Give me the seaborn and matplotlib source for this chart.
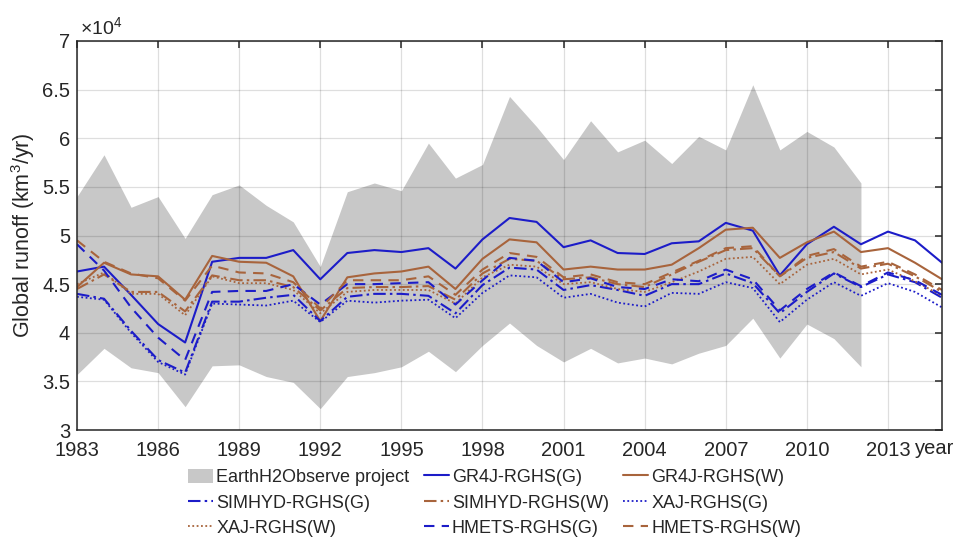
import numpy as np
import pandas as pd
import matplotlib
matplotlib.use("Agg")
import matplotlib.pyplot as plt
from matplotlib.patches import Patch
from matplotlib.lines import Line2D
import seaborn as sns

# Annual global runoff, in units of 10^4 km^3/yr
years = list(range(1983, 2016))

# EarthH2Observe ensemble envelope (1983-2012)
e2o_years = list(range(1983, 2013))
e2o_upper = [5.40, 5.83, 5.29, 5.40, 4.97, 5.42, 5.52, 5.31, 5.14, 4.68,
             5.45, 5.54, 5.46, 5.95, 5.59, 5.73, 6.43, 6.12, 5.78, 6.18,
             5.86, 5.98, 5.74, 6.02, 5.88, 6.55, 5.88, 6.07, 5.91, 5.54]
e2o_lower = [3.57, 3.84, 3.64, 3.59, 3.24, 3.66, 3.67, 3.55, 3.49, 3.22,
             3.55, 3.59, 3.65, 3.81, 3.60, 3.87, 4.10, 3.87, 3.70, 3.84,
             3.69, 3.74, 3.68, 3.79, 3.87, 4.15, 3.74, 4.09, 3.94, 3.65]

gr4j_g = [4.63, 4.68, 4.39, 4.09, 3.90, 4.73, 4.77, 4.77, 4.85, 4.55,
          4.82, 4.85, 4.83, 4.87, 4.66, 4.96, 5.18, 5.14, 4.88, 4.95,
          4.82, 4.81, 4.92, 4.94, 5.13, 5.05, 4.59, 4.91, 5.09, 4.91,
          5.04, 4.95, 4.72]
gr4j_w = [4.47, 4.72, 4.60, 4.58, 4.34, 4.79, 4.73, 4.72, 4.58, 4.12,
          4.57, 4.61, 4.63, 4.68, 4.45, 4.76, 4.96, 4.93, 4.65, 4.68,
          4.65, 4.65, 4.70, 4.87, 5.06, 5.08, 4.77, 4.93, 5.04, 4.83,
          4.87, 4.72, 4.55]
simhyd_g = [4.40, 4.35, 4.02, 3.72, 3.59, 4.32, 4.32, 4.36, 4.39, 4.12,
            4.37, 4.40, 4.40, 4.38, 4.20, 4.49, 4.67, 4.65, 4.44, 4.49,
            4.44, 4.38, 4.50, 4.50, 4.61, 4.51, 4.20, 4.42, 4.61, 4.47,
            4.60, 4.52, 4.36]
simhyd_w = [4.45, 4.60, 4.42, 4.42, 4.22, 4.59, 4.54, 4.54, 4.47, 4.23,
            4.46, 4.47, 4.47, 4.48, 4.34, 4.61, 4.76, 4.74, 4.55, 4.57,
            4.50, 4.47, 4.60, 4.73, 4.85, 4.87, 4.58, 4.77, 4.83, 4.66,
            4.71, 4.58, 4.42]
xaj_g = [4.37, 4.34, 4.00, 3.70, 3.57, 4.30, 4.29, 4.28, 4.33, 4.11,
         4.33, 4.31, 4.33, 4.34, 4.15, 4.41, 4.59, 4.57, 4.36, 4.40,
         4.31, 4.27, 4.41, 4.40, 4.52, 4.46, 4.11, 4.34, 4.52, 4.38,
         4.51, 4.42, 4.26]
xaj_w = [4.50, 4.62, 4.40, 4.40, 4.18, 4.58, 4.51, 4.51, 4.44, 4.20,
         4.42, 4.44, 4.44, 4.44, 4.30, 4.57, 4.70, 4.68, 4.50, 4.52,
         4.45, 4.42, 4.52, 4.63, 4.76, 4.78, 4.50, 4.70, 4.76, 4.60,
         4.65, 4.53, 4.38]
hmets_g = [4.91, 4.64, 4.26, 3.95, 3.72, 4.42, 4.43, 4.43, 4.50, 4.29,
           4.50, 4.50, 4.51, 4.52, 4.29, 4.54, 4.77, 4.74, 4.52, 4.56,
           4.47, 4.45, 4.55, 4.53, 4.65, 4.55, 4.23, 4.45, 4.62, 4.48,
           4.62, 4.54, 4.39]
hmets_w = [4.95, 4.73, 4.61, 4.56, 4.33, 4.69, 4.62, 4.61, 4.52, 4.25,
           4.54, 4.54, 4.54, 4.58, 4.39, 4.65, 4.82, 4.78, 4.57, 4.60,
           4.52, 4.50, 4.62, 4.74, 4.87, 4.89, 4.58, 4.79, 4.86, 4.68,
           4.73, 4.60, 4.44]

x_ticks = list(range(1983, 2014, 3))
y_ticks = [3, 3.5, 4, 4.5, 5, 5.5, 6, 6.5, 7]
y_tick_labels = ["3", "3.5", "4", "4.5", "5", "5.5", "6", "6.5", "7"]

BLUE = "#1c1cc8"
BROWN = "#a8643c"
BAND = "#c8c8c8"
INK = "#262626"

series = [
    ("GR4J-RGHS(G)", gr4j_g, BLUE, "-", 1.5),
    ("GR4J-RGHS(W)", gr4j_w, BROWN, "-", 1.5),
    ("SIMHYD-RGHS(G)", simhyd_g, BLUE, (0, (6, 2, 1.2, 2)), 1.5),
    ("SIMHYD-RGHS(W)", simhyd_w, BROWN, (0, (6, 2, 1.2, 2)), 1.5),
    ("XAJ-RGHS(G)", xaj_g, BLUE, (0, (1, 1.4)), 1.3),
    ("XAJ-RGHS(W)", xaj_w, BROWN, (0, (1, 1.4)), 1.3),
    ("HMETS-RGHS(G)", hmets_g, BLUE, (0, (5, 3.5)), 1.5),
    ("HMETS-RGHS(W)", hmets_w, BROWN, (0, (5, 3.5)), 1.5),
]

sns.set_theme(style="white")
plt.rcParams["font.family"] = ["Liberation Sans", "DejaVu Sans"]
plt.rcParams["mathtext.fontset"] = "custom"
plt.rcParams["mathtext.rm"] = "Liberation Sans"
plt.rcParams["mathtext.it"] = "Liberation Sans:italic"

TICK_SIZE = 14.5
LEGEND_SIZE = 13

fig = plt.figure(figsize=(9.66, 5.38), dpi=100)
ax = fig.add_axes([0.0797, 0.2007, 0.8955, 0.7231])

ax.fill_between(e2o_years, e2o_lower, e2o_upper, color=BAND, linewidth=0, zorder=1)

handles = {"EarthH2Observe project": Patch(facecolor=BAND, edgecolor="none")}
for name, vals, col, ls, lw in series:
    df = pd.DataFrame({"year": years, "runoff": vals})
    sns.lineplot(data=df, x="year", y="runoff", ax=ax, color=col,
                 linestyle=ls, linewidth=lw, zorder=3)
    handles[name] = Line2D([], [], color=col, linestyle=ls, linewidth=lw)

ax.set_xlim(1983, 2015)
ax.set_ylim(3, 7)
ax.set_xticks(x_ticks)
ax.set_xticklabels([str(t) for t in x_ticks])
ax.set_yticks(y_ticks)
ax.set_yticklabels(y_tick_labels)
ax.set_xlabel("")
ax.set_ylabel("Global runoff (km$^3$/yr)", fontsize=15.5, color=INK)
ax.yaxis.set_label_coords(-0.046, 0.5)

ax.grid(True, color="black", alpha=0.13, linewidth=0.9, zorder=2)
ax.set_axisbelow(False)
for sp in ax.spines.values():
    sp.set_color(INK)
    sp.set_linewidth(1.1)
    sp.set_zorder(5)
ax.tick_params(axis="both", direction="in", length=5, width=1.1,
               colors=INK, top=True, right=True, labelcolor=INK,
               labelsize=TICK_SIZE)
ax.tick_params(axis="x", pad=8)
ax.tick_params(axis="y", pad=5)

ax.text(0.004, 1.008, r"$\times\mathregular{10^4}$", transform=ax.transAxes,
        fontsize=14, color=INK, ha="left", va="bottom")
ax.text(2014.72, 2.905, "year", fontsize=TICK_SIZE, color=INK,
        ha="center", va="top")

# legend rows: E2O, GR4J(G), GR4J(W) / SIMHYD(G), SIMHYD(W), XAJ(G) / XAJ(W), HMETS(G), HMETS(W)
order = ["EarthH2Observe project", "SIMHYD-RGHS(G)", "XAJ-RGHS(W)",
         "GR4J-RGHS(G)", "SIMHYD-RGHS(W)", "HMETS-RGHS(G)",
         "GR4J-RGHS(W)", "XAJ-RGHS(G)", "HMETS-RGHS(W)"]
fig.legend([handles[k] for k in order], order, ncol=3, loc="upper center",
           bbox_to_anchor=(0.512, 0.129), frameon=False, fontsize=LEGEND_SIZE,
           handlelength=1.4, handleheight=0.85, handletextpad=0.15,
           columnspacing=0.8, labelspacing=0.45, borderpad=0.0,
           borderaxespad=0.0, labelcolor=INK)

fig.savefig("out.png", dpi=100)
